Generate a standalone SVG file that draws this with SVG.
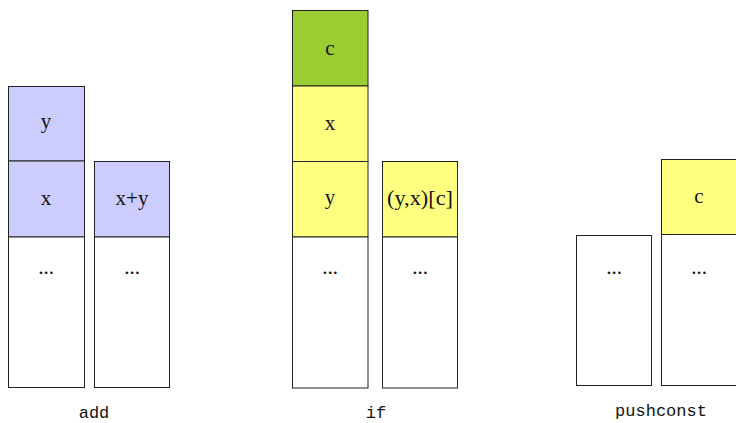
<svg xmlns="http://www.w3.org/2000/svg" width="736" height="423" viewBox="0 0 736 423">
<style>
.b{stroke:#222;stroke-width:1}
.blue{fill:#ccccff}
.yel{fill:#ffff80}
.grn{fill:#9acd32}
.wht{fill:#ffffff}
.t{font-family:"Liberation Serif",serif;font-size:21px;fill:#111;text-anchor:middle}
.lab{font-family:"Liberation Mono",monospace;font-size:17px;fill:#111;text-anchor:middle}
</style>
<rect width="736" height="423" fill="#fff"/>
<g id="add-before">
<rect class="b blue" x="8.5" y="86.5" width="76" height="74.5"/>
<rect class="b blue" x="8.5" y="161" width="76" height="76"/>
<rect class="b wht" x="8.5" y="237" width="76" height="150.5"/>
<text class="t" x="46" y="128">y</text>
<text class="t" x="46" y="205">x</text>
<text class="t" x="46" y="274">...</text>
</g>
<g id="add-after">
<rect class="b blue" x="94.5" y="161.5" width="75" height="75.5"/>
<rect class="b wht" x="94.5" y="237" width="75" height="150.5"/>
<text class="t" x="132" y="205">x+y</text>
<text class="t" x="132" y="274">...</text>
</g>
<g id="if-before">
<rect class="b grn" x="292.5" y="10.5" width="75.5" height="75.5"/>
<rect class="b yel" x="292.5" y="86" width="75.5" height="75.5"/>
<rect class="b yel" x="292.5" y="161.5" width="75.5" height="75.5"/>
<rect class="b wht" x="292.5" y="237" width="75.5" height="151"/>
<text class="t" x="330" y="55">c</text>
<text class="t" x="330" y="130">x</text>
<text class="t" x="330" y="204">y</text>
<text class="t" x="330" y="274">...</text>
</g>
<g id="if-after">
<rect class="b yel" x="382.5" y="161.5" width="75" height="75.5"/>
<rect class="b wht" x="382.5" y="237" width="75" height="151"/>
<text class="t" x="420" y="205" font-size="19" textLength="66" lengthAdjust="spacingAndGlyphs">(y,x)[c]</text>
<text class="t" x="420" y="274">...</text>
</g>
<g id="pushconst-before">
<rect class="b wht" x="576.5" y="235.5" width="75" height="150"/>
<text class="t" x="614" y="274">...</text>
</g>
<g id="pushconst-after">
<rect class="b yel" x="661.5" y="159.5" width="76" height="75"/>
<rect class="b wht" x="661.5" y="234.5" width="76" height="151"/>
<text class="t" x="699" y="203">c</text>
<text class="t" x="699" y="274">...</text>
</g>
<g id="labels">
<text class="lab" x="94" y="418">add</text>
<text class="lab" x="376" y="418">if</text>
<text class="lab" x="661" y="416">pushconst</text>
</g>
<g id="connectors"></g>
</svg>
